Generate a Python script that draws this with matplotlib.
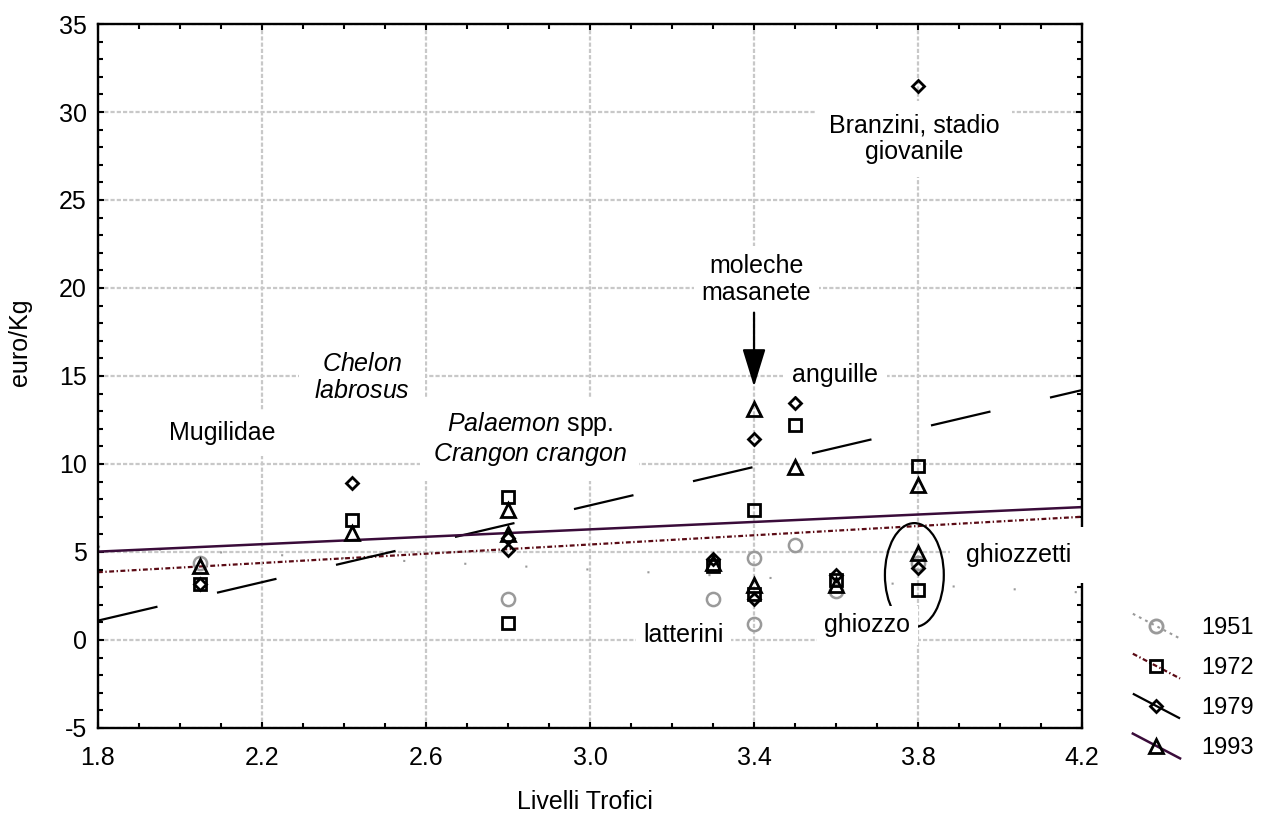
import numpy as np
import matplotlib.pyplot as plt
from matplotlib.lines import Line2D
from matplotlib.patches import Ellipse
from matplotlib.legend_handler import HandlerLine2D

plt.rcParams['font.family'] = ['Liberation Sans', 'DejaVu Sans']
plt.rcParams['mathtext.fontset'] = 'custom'
plt.rcParams['mathtext.it'] = 'Liberation Sans:italic'
plt.rcParams['mathtext.rm'] = 'Liberation Sans'
plt.rcParams['lines.scale_dashes'] = False
plt.rcParams['axes.unicode_minus'] = False

# prezzo (euro/Kg) per livello trofico, per anno
tl_1951 = [2.05, 2.8, 3.3, 3.4, 3.4, 3.5, 3.6, 3.8]
eur_1951 = [4.4, 2.3, 2.3, 4.65, 0.9, 5.4, 2.8, 4.4]

tl_1972 = [2.05, 2.42, 2.8, 2.8, 3.3, 3.4, 3.4, 3.5, 3.6, 3.8, 3.8]
eur_1972 = [3.2, 6.8, 8.1, 0.95, 4.2, 7.4, 2.6, 12.2, 3.4, 9.9, 2.85]

tl_1979 = [2.05, 2.42, 2.8, 2.8, 3.3, 3.4, 3.4, 3.5, 3.6, 3.8, 3.8]
eur_1979 = [3.2, 8.9, 5.8, 5.1, 4.6, 11.4, 2.3, 13.45, 3.7, 31.5, 4.1]

tl_1993 = [2.05, 2.42, 2.8, 2.8, 3.3, 3.4, 3.4, 3.5, 3.6, 3.8, 3.8]
eur_1993 = [4.2, 6.1, 7.4, 6.0, 4.4, 13.1, 3.1, 9.8, 3.1, 8.8, 4.95]

# rette di tendenza (estremi)
trend_x = [1.8, 4.2]
trend_1951 = [5.3, 2.7]
trend_1972 = [3.85, 7.0]
trend_1979 = [1.1, 14.2]
trend_1993 = [5.02, 7.55]

years = ['1951', '1972', '1979', '1993']
xticks = [1.8, 2.2, 2.6, 3.0, 3.4, 3.8, 4.2]
yticks = [-5, 0, 5, 10, 15, 20, 25, 30, 35]

series = [
    (tl_1951, eur_1951, trend_1951, dict(color='#9a9a9a', marker='o', ms=9.5, ls=(0, (1.5, 42.5)), lw=1.5), (0, (2, 3))),
    (tl_1972, eur_1972, trend_1972, dict(color='#5a0a14', marker='s', ms=8.9, ls=(0, (3.5, 1.8, 1, 1.8)), lw=1.6), None),
    (tl_1979, eur_1979, trend_1979, dict(color='black', marker='D', ms=6.3, ls=(0, (44, 44)), lw=1.6), None),
    (tl_1993, eur_1993, trend_1993, dict(color='#3a0c3a', marker='^', ms=10, ls='-', lw=1.8), None),
]


class SlantHandler(HandlerLine2D):
    # linea obliqua con il simbolo al centro
    def create_artists(self, legend, orig_handle, xdescent, ydescent,
                       width, height, fontsize, trans):
        x0, x1 = -xdescent, -xdescent + width
        yc = -ydescent + height / 2
        y0, y1 = yc + 0.75 * height, yc - 0.75 * height
        line = Line2D([x0, x1], [y0, y1])
        self.update_prop(line, orig_handle, legend)
        line.set_marker('None')
        line.set_transform(trans)
        mk = Line2D([(x0 + x1) / 2], [yc])
        self.update_prop(mk, orig_handle, legend)
        mk.set_linestyle('None')
        mk.set_transform(trans)
        return [line, mk]


fig = plt.figure(figsize=(12.61, 8.14), dpi=100)
ax = fig.add_axes([0.0777, 0.1057, 0.7804, 0.8648])

handles = []
for (x, y, trend, st, leg_ls), year in zip(series, years):
    ax.plot(trend_x, trend, color=st['color'], ls=st['ls'], lw=st['lw'], zorder=2)
    mcol = st['color'] if year == '1951' else 'black'
    ax.plot(x, y, ls='none', marker=st['marker'], ms=st['ms'], mfc='none',
            mec=mcol, mew=2.0 if year != '1951' else 1.8, zorder=4)
    handles.append(Line2D([], [], color=st['color'],
                          ls=leg_ls if leg_ls else st['ls'], lw=st['lw'],
                          marker=st['marker'], ms=st['ms'], mfc='none',
                          mec=mcol, mew=2.0))

ax.set_xlim(1.8, 4.2)
ax.set_ylim(-5, 35)
ax.set_xticks(xticks)
ax.set_xticklabels(['%.1f' % v for v in xticks])
ax.set_yticks(yticks)
ax.set_xticks(np.arange(1.8, 4.21, 0.1), minor=True)
ax.set_yticks(np.arange(-5, 35.1, 1), minor=True)
ax.tick_params(which='both', direction='in', top=True, right=True, width=1.5)
ax.tick_params(which='major', length=4, labelsize=18)
ax.tick_params(axis='x', which='major', pad=13)
ax.tick_params(axis='y', which='major', pad=8)
ax.tick_params(which='minor', length=3.5)
for sp in ax.spines.values():
    sp.set_linewidth(1.7)

ax.grid(True, which='major', color='#c8c8c8', ls=(0, (3, 1.5)), lw=1.6, zorder=0)
ax.set_axisbelow(True)

ax.set_xlabel('Livelli Trofici', fontsize=18)
ax.set_ylabel('euro/Kg', fontsize=18)
ax.xaxis.set_label_coords(0.495, -0.088)
ax.yaxis.set_label_coords(-0.067, 0.548)

box = dict(facecolor='white', edgecolor='none')
labels = [
    ('Mugilidae', 2.104, 11.76, 0.45),
    (r'$\mathit{Chelon}$' + '\n' + r'$\mathit{labrosus}$', 2.445, 14.9, 0.6),
    (r'$\mathit{Palaemon}$ spp.' + '\n' + r'$\mathit{Crangon\ crangon}$', 2.853, 11.4, 0.5),
    ('moleche\nmasanete', 3.406, 20.5, 0.3),
    ('anguille', 3.598, 15.06, 0.35),
    ('Branzini, stadio\ngiovanile', 3.79, 28.47, 0.5),
    ('latterini', 3.228, 0.28, 0.3),
    ('ghiozzo', 3.676, 0.85, 0.3),
    ('ghiozzetti', 4.045, 4.83, 0.65),
]
for txt, lx, ly, pad in labels:
    ax.text(lx, ly, txt, fontsize=18, ha='center', va='center',
            multialignment='center', linespacing=1.15, zorder=5,
            bbox=dict(box, boxstyle='square,pad=%.2f' % pad))

ax.add_patch(Ellipse((3.791, 3.69), 0.1436, 5.9, fill=False, lw=1.6,
                     edgecolor='black', zorder=4))
ax.annotate('', xy=(3.4, 14.4), xytext=(3.4, 18.6),
            arrowprops=dict(arrowstyle='-|>,head_length=1.3,head_width=0.4',
                            lw=1.6, color='black', mutation_scale=18,
                            shrinkA=0, shrinkB=0), zorder=6)

fig.legend(handles, years, loc='upper left', bbox_to_anchor=(0.889, 0.256),
           bbox_transform=fig.transFigure, frameon=False, fontsize=17,
           borderpad=0, handlelength=2.0, handletextpad=0.9, labelspacing=0.76,
           handler_map={Line2D: SlantHandler()})

fig.savefig('out.png', dpi=100)
